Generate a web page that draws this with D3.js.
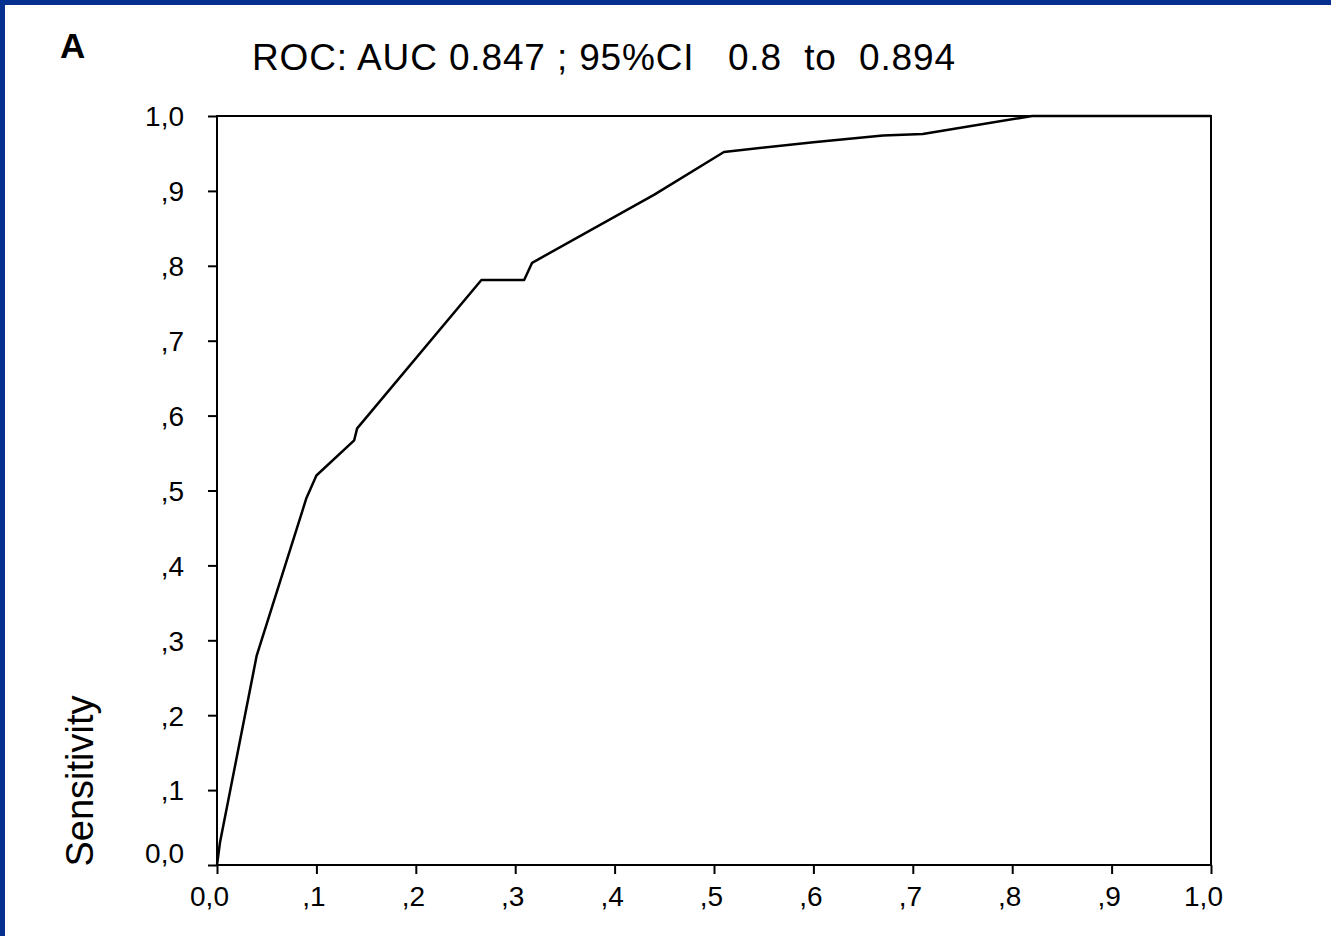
<!DOCTYPE html>
<html>
<head>
<meta charset="utf-8">
<script src="https://cdn.jsdelivr.net/npm/d3@7"></script>
<style>
  html, body { margin: 0; padding: 0; background: #ffffff; }
  svg { display: block; }
</style>
</head>
<body>
<script>
// ROC curve: false-positive rate (1 - specificity) vs sensitivity
const fpr = [0, 0.003, 0.04, 0.09, 0.10, 0.138, 0.141, 0.266, 0.309, 0.317, 0.44, 0.51, 0.60, 0.67, 0.71, 0.82, 1.0];
const sensitivity = [0, 0.03, 0.28, 0.49, 0.52, 0.567, 0.583, 0.781, 0.781, 0.804, 0.895, 0.952, 0.965, 0.974, 0.976, 1.0, 1.0];

const tickValues = [0, 0.1, 0.2, 0.3, 0.4, 0.5, 0.6, 0.7, 0.8, 0.9, 1.0];
const tickLabels = ["0,0", ",1", ",2", ",3", ",4", ",5", ",6", ",7", ",8", ",9", "1,0"];

const panelLabel = "A";
const titleText = "ROC: AUC 0.847 ; 95%CI   0.8  to  0.894";
const yTitle = "Sensitivity";

const W = 1331, H = 936;
const plot = { left: 217, right: 1211, top: 116, bottom: 865 };

const svg = d3.select("body").append("svg")
  .attr("width", W).attr("height", H);

svg.append("rect").attr("width", W).attr("height", H).attr("fill", "#ffffff");

// blue frame on top and left edges
svg.append("rect").attr("x", 0).attr("y", 0).attr("width", W).attr("height", 5).attr("fill", "#06308f");
svg.append("rect").attr("x", 0).attr("y", 0).attr("width", 5).attr("height", H).attr("fill", "#06308f");

const font = "'Liberation Sans', Arial, sans-serif";

const x = d3.scaleLinear().domain([0, 1]).range([plot.left, plot.right]);
const y = d3.scaleLinear().domain([0, 1]).range([plot.bottom, plot.top]);

// axes with outward ticks
const yAxis = d3.axisLeft(y).tickValues(tickValues).tickSize(9)
  .tickFormat((d, i) => tickLabels[i]);
const xAxis = d3.axisBottom(x).tickValues(tickValues).tickSize(9)
  .tickFormat((d, i) => tickLabels[i]);

const gy = svg.append("g").attr("transform", `translate(${plot.left},0)`).call(yAxis);
gy.select(".domain").remove();
gy.selectAll(".tick line").attr("stroke", "#000").attr("stroke-width", 2);
gy.selectAll(".tick text")
  .attr("font-family", font).attr("font-size", 28).attr("fill", "#000")
  .attr("x", -33).attr("dy", "0.35em")
  .attr("transform", (d) => d === 0 ? "translate(0,-12)" : null);

const gx = svg.append("g").attr("transform", `translate(0,${plot.bottom})`).call(xAxis);
gx.select(".domain").remove();
gx.selectAll(".tick line").attr("stroke", "#000").attr("stroke-width", 2);
gx.selectAll(".tick text")
  .attr("font-family", font).attr("font-size", 28).attr("fill", "#000")
  .attr("y", 21).attr("dy", "0.71em")
  .attr("dx", (d, i) => tickLabels[i].startsWith(",") ? -3 : -8);

// plot frame
svg.append("rect")
  .attr("x", plot.left).attr("y", plot.top)
  .attr("width", plot.right - plot.left).attr("height", plot.bottom - plot.top)
  .attr("fill", "none").attr("stroke", "#000").attr("stroke-width", 2);

// ROC curve
const pts = fpr.map((v, i) => [v, sensitivity[i]]);
svg.append("path")
  .datum(pts)
  .attr("fill", "none").attr("stroke", "#000").attr("stroke-width", 2.5)
  .attr("stroke-linejoin", "round")
  .attr("d", d3.line().x(d => x(d[0])).y(d => y(d[1])));

// titles
svg.append("text")
  .attr("x", 60).attr("y", 58)
  .attr("font-family", font).attr("font-size", 35).attr("font-weight", "bold")
  .text(panelLabel);

svg.append("text")
  .attr("x", 252).attr("y", 70)
  .attr("xml:space", "preserve").style("white-space", "pre")
  .attr("font-family", font).attr("font-size", 37)
  .attr("textLength", 703).attr("lengthAdjust", "spacing")
  .text(titleText);

svg.append("text")
  .attr("transform", "translate(93,781) rotate(-90)")
  .attr("text-anchor", "middle")
  .attr("font-family", font).attr("font-size", 38)
  .text(yTitle);
</script>
</body>
</html>
